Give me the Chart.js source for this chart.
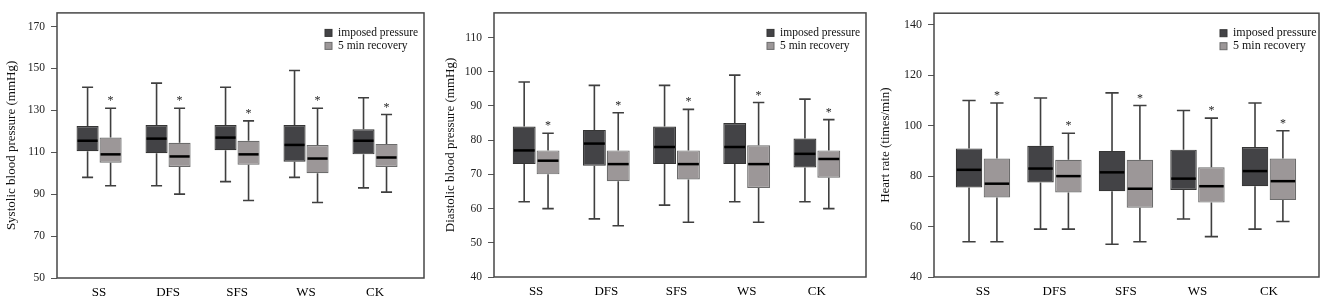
<!DOCTYPE html>
<html>
<head>
<meta charset="utf-8">
<script src="https://cdn.jsdelivr.net/npm/chart.js@4.4.1/dist/chart.umd.min.js"></script>
<style>
  html, body { margin: 0; padding: 0; background: #fff; }
  body { width: 1325px; height: 303px; position: relative; overflow: hidden; }
  canvas { position: absolute; top: 0; }
</style>
</head>
<body>
<canvas id="sbp" width="442" height="303" style="left:0px"></canvas>
<canvas id="dbp" width="442" height="303" style="left:442px"></canvas>
<canvas id="hr" width="447" height="303" style="left:878px"></canvas>
<script>
const categories = ['SS', 'DFS', 'SFS', 'WS', 'CK'];
const seriesNames = ['imposed pressure', '5 min recovery'];
const sigMarks = ['*', '*', '*', '*', '*'];

// each row: [min, q1, median, q3, max] per category
const sbpImposed = [[98, 110.5, 115.5, 122.5, 141], [94, 109.5, 116.5, 123, 143], [96, 111, 117, 123, 141], [98, 105.5, 113.5, 123, 149], [93, 109, 115.5, 121, 136]];
const sbpRecovery = [[94, 105, 109, 117, 131], [90, 103, 108, 114.5, 131], [87, 104, 109, 115.5, 125], [86, 100, 107, 113.5, 131], [91, 103, 107.5, 114, 128]];
const dbpImposed = [[62, 73, 77, 84, 97], [57, 72.5, 79, 83, 96], [61, 73, 78, 84, 96], [62, 73, 78, 85, 99], [62, 72, 76, 80.5, 92]];
const dbpRecovery = [[60, 70, 74, 77, 82], [55, 68, 73, 77, 88], [56, 68.5, 73, 77, 89], [56, 66, 73, 78.5, 91], [60, 69, 74.5, 77, 86]];
const hrImposed = [[54, 75.5, 82.5, 91, 110], [59, 77.5, 83, 92, 111], [53, 74, 81.5, 90, 113], [63, 74.5, 79, 90.5, 106], [59, 76, 82, 91.5, 109]];
const hrRecovery = [[54, 71.5, 77, 87, 109], [59, 73.5, 80, 86.5, 97], [54, 67.5, 75, 86.5, 108], [56, 69.5, 76, 83.5, 103], [62, 70.5, 78, 87, 98]];

const sbpTicks = [50, 70, 90, 110, 130, 150, 170];
const dbpTicks = [40, 50, 60, 70, 80, 90, 100, 110];
const hrTicks = [40, 60, 80, 100, 120, 140];

const serif = "'Liberation Serif', 'Times New Roman', serif";
const boxFill = ['#434346', '#9c9798'];
const boxLine = ['#363636', '#6c6c6c'];

// whiskers, medians, asterisks, frame and legend
const boxPlot = {
  id: 'boxPlot',
  afterDatasetsDraw(chart) {
    const ctx = chart.ctx;
    const y = chart.scales.y;
    const area = chart.chartArea;
    ctx.save();
    chart.data.datasets.forEach((ds, i) => {
      const meta = chart.getDatasetMeta(i);
      meta.data.forEach((bar, j) => {
        const s = ds.stats[j];
        const half = bar.width / 2;
        const cap = bar.width / 4;
        const pMin = y.getPixelForValue(s[0]);
        const pQ1 = y.getPixelForValue(s[1]);
        const pMed = y.getPixelForValue(s[2]);
        const pQ3 = y.getPixelForValue(s[3]);
        const pMax = y.getPixelForValue(s[4]);
        ctx.strokeStyle = '#3f3f3f';
        ctx.lineWidth = 1.6;
        ctx.beginPath();
        ctx.moveTo(bar.x, pQ3); ctx.lineTo(bar.x, pMax);
        ctx.moveTo(bar.x - cap, pMax); ctx.lineTo(bar.x + cap, pMax);
        ctx.moveTo(bar.x, pQ1); ctx.lineTo(bar.x, pMin);
        ctx.moveTo(bar.x - cap, pMin); ctx.lineTo(bar.x + cap, pMin);
        ctx.stroke();
        ctx.strokeStyle = '#000';
        ctx.lineWidth = 2.5;
        ctx.beginPath();
        ctx.moveTo(bar.x - half + 1, pMed); ctx.lineTo(bar.x + half - 1, pMed);
        ctx.stroke();
        if (ds.marks && ds.marks[j]) {
          ctx.fillStyle = '#222';
          ctx.font = '12px ' + serif;
          ctx.textAlign = 'center';
          ctx.textBaseline = 'alphabetic';
          ctx.fillText(ds.marks[j], bar.x, pMax - 4);
        }
      });
    });

    ctx.strokeStyle = '#474747';
    ctx.lineWidth = 1.5;
    ctx.strokeRect(area.left, area.top, area.right - area.left, area.bottom - area.top);

    const fs = chart.options.plugins.boxPlot.legendSize;
    chart.data.datasets.forEach((ds, i) => {
      const lx = area.right - 99;
      const ly = area.top + 20 + i * 13;
      ctx.fillStyle = ds.backgroundColor;
      ctx.fillRect(lx, ly - 3.5, 7, 7);
      ctx.strokeStyle = ds.borderColor;
      ctx.lineWidth = 1;
      ctx.strokeRect(lx, ly - 3.5, 7, 7);
      ctx.fillStyle = '#111';
      ctx.font = fs + 'px ' + serif;
      ctx.textAlign = 'left';
      ctx.textBaseline = 'middle';
      ctx.fillText(ds.label, lx + 13, ly);
    });
    ctx.restore();
  }
};

function makePanel(id, imposed, recovery, p) {
  const groups = [imposed, recovery];
  new Chart(document.getElementById(id), {
    type: 'bar',
    data: {
      datasets: groups.map((stats, i) => ({
        label: seriesNames[i],
        data: stats.map((s, j) => ({ x: j, y: [s[1], s[3]] })),
        stats: stats,
        marks: i === 1 ? sigMarks : null,
        backgroundColor: boxFill[i],
        borderColor: boxLine[i],
        borderWidth: 1.2,
        borderSkipped: false,
        categoryPercentage: p.catPct,
        barPercentage: p.barPct
      }))
    },
    options: {
      responsive: false,
      animation: false,
      events: [],
      layout: { padding: { top: p.top, right: p.right, left: 0, bottom: 0 } },
      plugins: {
        legend: { display: false },
        tooltip: { enabled: false },
        boxPlot: { legendSize: p.legendSize }
      },
      scales: {
        x: {
          type: 'linear',
          offset: false,
          min: p.xMin,
          max: p.xMax,
          afterBuildTicks: s => { s.ticks = categories.map((c, i) => ({ value: i })); },
          afterFit: s => { s.height = 303 - p.top - p.plotH; },
          grid: { display: false, drawTicks: false },
          border: { display: false },
          ticks: {
            callback: v => categories[v],
            color: '#000',
            padding: 7,
            maxRotation: 0,
            font: { family: serif, size: 13 }
          }
        },
        y: {
          min: p.yMin,
          max: p.yMax,
          afterBuildTicks: s => { s.ticks = p.ticks.map(v => ({ value: v })); },
          afterFit: s => { s.width = p.yWidth; },
          grid: { drawOnChartArea: false, drawTicks: true, tickLength: 6, color: '#555' },
          border: { display: false },
          ticks: { color: '#222', padding: 6, font: { family: serif, size: p.tickSize } },
          title: {
            display: true,
            text: p.title,
            color: '#111',
            padding: { top: p.titlePad, bottom: 0 },
            font: { family: serif, size: 13 }
          }
        }
      }
    },
    plugins: [boxPlot]
  });
}

makePanel('sbp', sbpImposed, sbpRecovery, {
  title: 'Systolic blood pressure (mmHg)', ticks: sbpTicks,
  yMin: 50, yMax: 176.5, xMin: -0.61, xMax: 4.71,
  yWidth: 57, top: 6, right: 18, plotH: 272, titlePad: 4,
  catPct: 0.667, barPct: 0.96, tickSize: 11.5, legendSize: 11.5
});
makePanel('dbp', dbpImposed, dbpRecovery, {
  title: 'Diastolic blood pressure (mmHg)', ticks: dbpTicks,
  yMin: 40, yMax: 117.2, xMin: -0.6, xMax: 4.7,
  yWidth: 52, top: 7, right: 18, plotH: 270, titlePad: 1,
  catPct: 0.68, barPct: 0.96, tickSize: 11.5, legendSize: 11.5
});
makePanel('hr', hrImposed, hrRecovery, {
  title: 'Heart rate (times/min)', ticks: hrTicks,
  yMin: 40, yMax: 144.6, xMin: -0.685, xMax: 4.7,
  yWidth: 56, top: 9, right: 6, plotH: 268, titlePad: 0,
  catPct: 0.78, barPct: 0.95, tickSize: 12, legendSize: 12
});
</script>
</body>
</html>
